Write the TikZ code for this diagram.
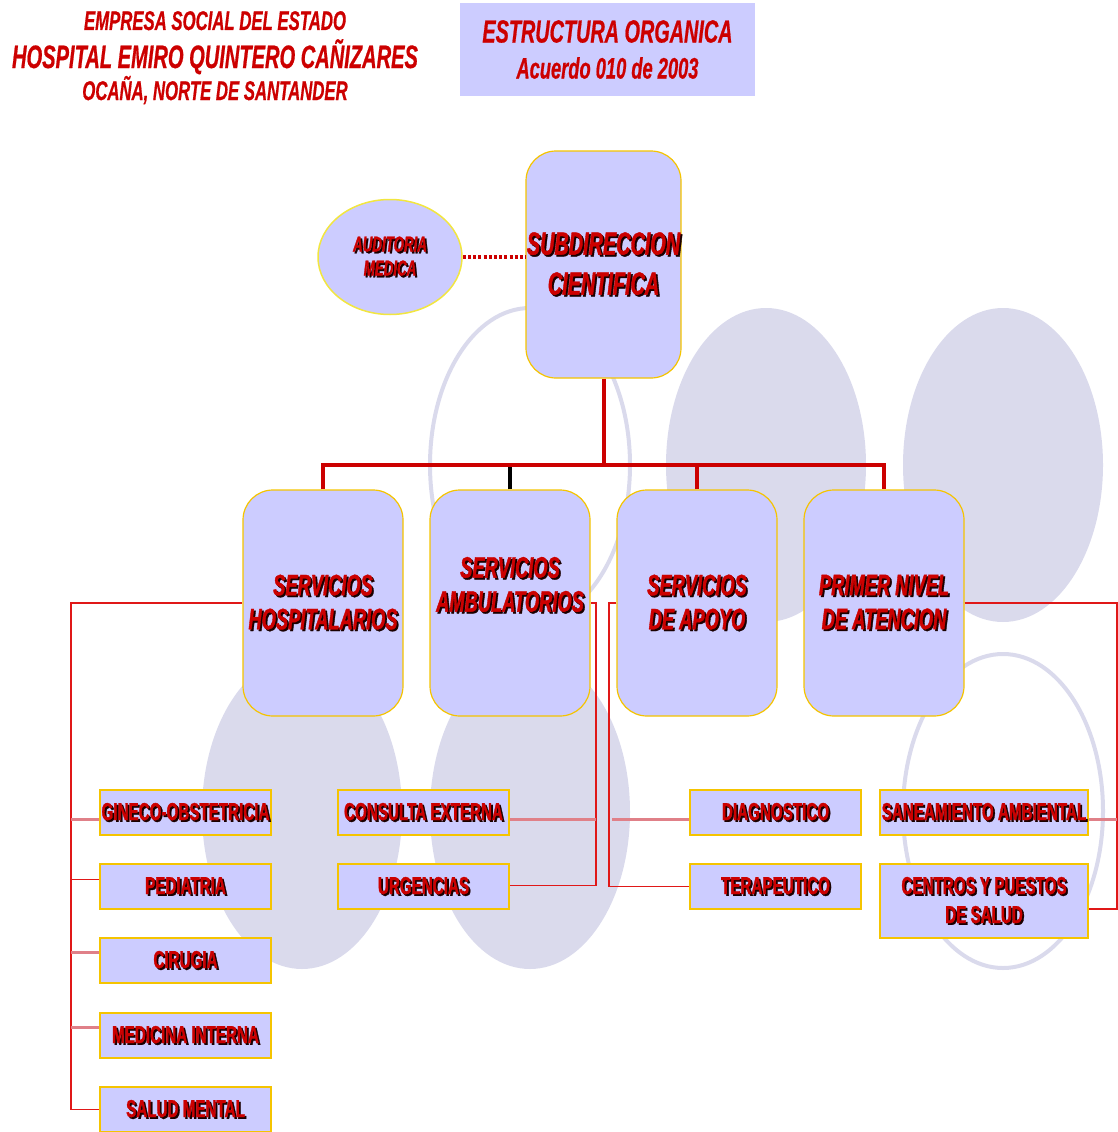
\documentclass[tikz,border=0pt]{standalone}
\usepackage{fontspec}
\newfontfamily\nf[FakeStretch=0.62,FakeBold=0.6]{Liberation Sans}
\newfontfamily\nfb[FakeStretch=0.62,FakeBold=1.2]{Liberation Sans}
\usetikzlibrary{shapes.geometric}
\definecolor{boxfill}{HTML}{CCCCFF}
\definecolor{gold}{HTML}{F5C400}
\definecolor{audgold}{HTML}{F2E640}
\definecolor{lav}{HTML}{DADAEC}
\definecolor{tred}{HTML}{CC0000}
\definecolor{lred}{HTML}{E01818}
\definecolor{pinkl}{HTML}{E08088}
\definecolor{shd}{HTML}{1A0000}
\newcommand\sh[1]{\leavevmode\rlap{\kern1.8pt\raisebox{-1.8pt}{\textcolor{shd}{#1}}}#1}
\begin{document}
\begin{tikzpicture}[x=1pt,y=-1pt,
  hd/.style={text=tred, inner sep=0pt, anchor=base},
  bigbox/.style={draw=gold, line width=1.2pt, fill=boxfill, rounded corners=30pt,
    minimum width=160pt, minimum height=226pt, inner sep=0pt, align=center, text=tred,
    font=\nfb\bfseries\itshape\fontsize{29.5}{34}\selectfont},
  smallbox/.style={draw=gold, line width=1.5pt, fill=boxfill, minimum width=171pt,
    minimum height=45pt, inner sep=0pt, align=center, text=tred,
    font=\nfb\bfseries\fontsize{24.5}{29}\selectfont},
  mainline/.style={draw=tred, line width=4pt},
  thinline/.style={draw=lred, line width=1.8pt},
  pinkline/.style={draw=pinkl, line width=3pt},
  bgell/.style={fill=lav},
  bgring/.style={draw=lav, line width=4pt}
]
\useasboundingbox (0,0) rectangle (1118,1132);
% background ellipses
\fill[bgell] (766,465) ellipse [x radius=100pt, y radius=157pt];
\fill[bgell] (1003,465) ellipse [x radius=100pt, y radius=157pt];
\fill[bgell] (302,812) ellipse [x radius=100pt, y radius=157pt];
\fill[bgell] (530,812) ellipse [x radius=100pt, y radius=157pt];
\draw[bgring] (530,465) ellipse [x radius=100pt, y radius=157pt];
\draw[bgring] (1003,811) ellipse [x radius=100pt, y radius=157pt];

% header
\node[hd, font=\nf\bfseries\itshape\fontsize{27}{27}\selectfont] (hd1) at (215,30) {EMPRESA SOCIAL DEL ESTADO};
\node[hd, font=\nf\bfseries\itshape\fontsize{32.4}{32}\selectfont] (hd2) at (215,68) {HOSPITAL EMIRO QUINTERO CAÑIZARES};
\node[hd, font=\nf\bfseries\itshape\fontsize{27}{27}\selectfont] (hd3) at (215,100) {OCAÑA, NORTE DE SANTANDER};
\node[fill=boxfill, minimum width=295pt, minimum height=93pt, inner sep=0pt, align=center, text=tred,
  font=\nf\bfseries\itshape\fontsize{32}{36}\selectfont] (tb) at (607.5,49.5)
  {ESTRUCTURA ORGANICA\\{\fontsize{29.5}{36}\selectfont Acuerdo 010 de 2003}};

% top level
\node[bigbox, minimum width=155pt, minimum height=227pt, font=\nfb\bfseries\itshape\fontsize{32}{40}\selectfont]
  (sub) at (603.5,264.5) {\sh{SUBDIRECCION}\\\sh{CIENTIFICA}};
\node[ellipse, draw=audgold, line width=1.5pt, fill=boxfill, minimum width=144pt, minimum height=115pt,
  inner sep=0pt, align=center, text=tred, font=\nfb\bfseries\itshape\fontsize{21.5}{24}\selectfont]
  (aud) at (390,257) {\sh{AUDITORIA}\\\sh{MEDICA}};

% second level
\node[bigbox] (h1) at (323,603) {\sh{SERVICIOS}\\\sh{HOSPITALARIOS}};
\node[bigbox] (h2) at (510,603) {\raisebox{9pt}[0pt][0pt]{\begin{tabular}{@{}c@{}}\sh{SERVICIOS}\\\sh{AMBULATORIOS}\end{tabular}}};
\node[bigbox] (h3) at (697,603) {\sh{SERVICIOS}\\\sh{DE APOYO}};
\node[bigbox] (h4) at (884,603) {\sh{PRIMER NIVEL}\\\sh{DE ATENCION}};

% third level
\node[smallbox] (gin) at (185.5,812.5) {\sh{GINECO-OBSTETRICIA}};
\node[smallbox] (ped) at (185.5,886.5) {\sh{PEDIATRIA}};
\node[smallbox] (cir) at (185.5,960.5) {\sh{CIRUGIA}};
\node[smallbox] (med) at (185.5,1035.5) {\sh{MEDICINA INTERNA}};
\node[smallbox] (sal) at (185.5,1109.5) {\sh{SALUD MENTAL}};
\node[smallbox] (con) at (423.5,812.5) {\sh{CONSULTA EXTERNA}};
\node[smallbox] (urg) at (423.5,886.5) {\sh{URGENCIAS}};
\node[smallbox] (dia) at (775.5,812.5) {\sh{DIAGNOSTICO}};
\node[smallbox] (ter) at (775.5,886.5) {\sh{TERAPEUTICO}};
\node[smallbox, minimum width=208pt] (san) at (984,812.5) {\sh{SANEAMIENTO AMBIENTAL}};
\node[smallbox, minimum width=208pt, minimum height=74pt] (cen) at (984,901) {\sh{CENTROS Y PUESTOS}\\\sh{DE SALUD}};

% connectors, top
\coordinate (bary) at (0,465);
\draw[tred, line width=4pt, dash pattern=on 3pt off 2.2pt] (aud.east) -- (aud.east -| sub.west);
\draw[mainline] (sub.south) -- (sub.south |- bary);
\draw[mainline] (h1.north) |- (h4.north |- bary) -- (h4.north);
\draw[mainline] (h3.north) -- (h3.north |- bary);
\draw[draw=black, line width=4pt] (h2.north) -- ([yshift=-2pt]h2.north |- bary);

% left bracket
\coordinate (lx) at (71,0);
\draw[thinline] (h1.west) -| (lx |- sal.west) -- (sal.west);
\coordinate (g1) at ([yshift=-7pt]gin.west);
\coordinate (p1) at ([yshift=7pt]ped.west);
\coordinate (c1) at ([yshift=8pt]cir.west);
\coordinate (m1) at ([yshift=8pt]med.west);
\draw[pinkline] (g1) -- (g1 -| lx);
\draw[thinline] (p1) -- (p1 -| lx);
\draw[pinkline] (c1) -- (c1 -| lx);
\draw[pinkline] (m1) -- (m1 -| lx);

% middle bracket
\coordinate (mx) at (596,0);
\coordinate (u1) at ([yshift=1pt]urg.east);
\draw[thinline] (h2.east) -| (mx |- u1) -- (u1);
\coordinate (k1) at ([yshift=-7pt]con.east);
\draw[pinkline] (k1) -- (k1 -| mx);

% apoyo bracket
\coordinate (ax) at (609,0);
\coordinate (ax2) at (612,0);
\draw[thinline] (h3.west) -| (ax |- ter.west) -- (ter.west);
\coordinate (d1) at ([yshift=-7pt]dia.west);
\draw[pinkline] (d1) -- (d1 -| ax2);

% primer nivel bracket
\coordinate (rx) at (1117,0);
\coordinate (e1) at ([yshift=-8pt]cen.east);
\draw[thinline] (h4.east) -| (rx |- e1) -- (e1);
\coordinate (s1) at ([yshift=-7pt]san.east);
\draw[pinkline] (s1) -- (s1 -| rx);
\end{tikzpicture}
\end{document}
